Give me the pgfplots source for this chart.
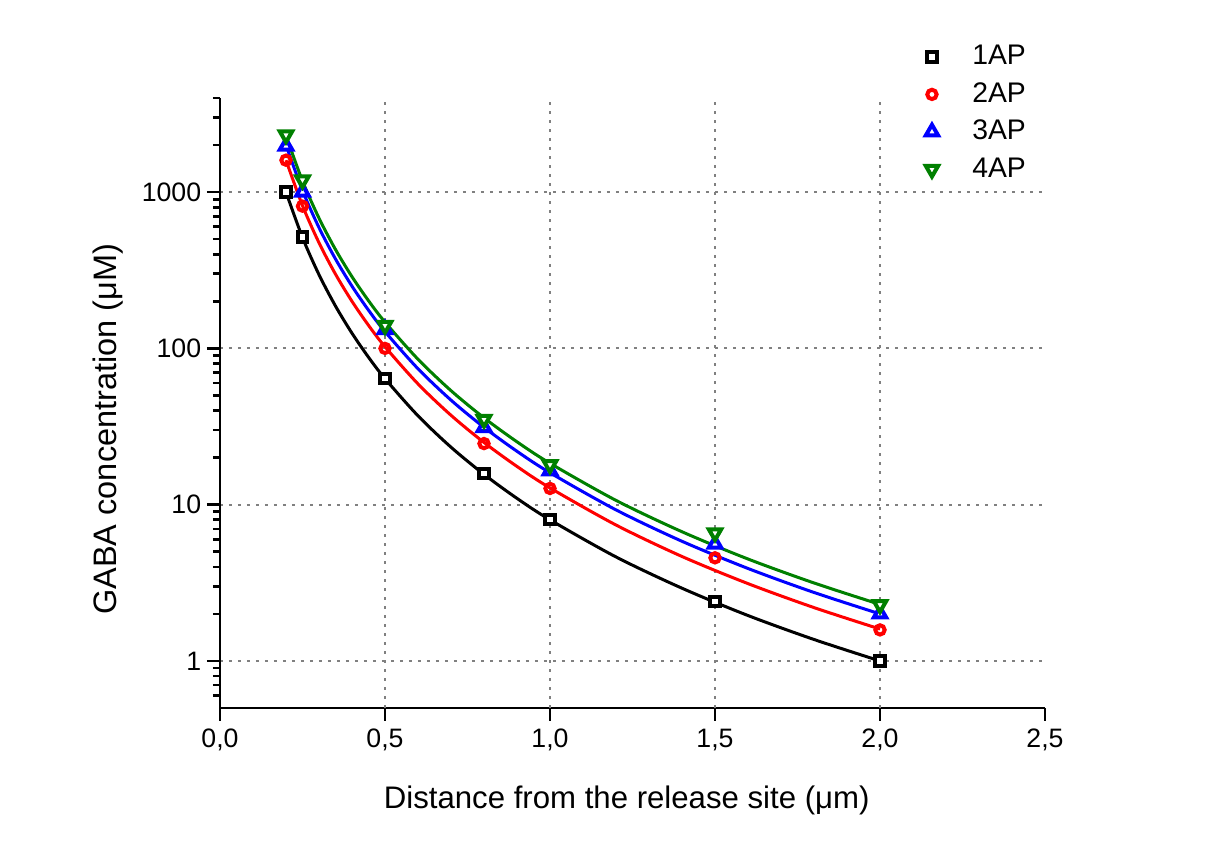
\documentclass[border=0pt]{standalone}
\usepackage{fontspec}
\setmainfont{Liberation Sans}
\usepackage{pgfplots}
\pgfplotsset{compat=1.18}
\definecolor{ogreen}{RGB}{0,128,0}
\definecolor{ored}{RGB}{255,0,0}
\definecolor{oblue}{RGB}{0,0,255}
\definecolor{ogrid}{RGB}{128,128,128}

% fitted curves
\pgfplotstableread{
x c1 c2 c3 c4
0.20 1000 1600 2000 2300
0.25 512 819.2 1024 1177.6
0.30 296.3 474.1 592.6 681.5
0.35 186.6 298.5 373.2 429.2
0.40 125 200 250 287.5
0.45 87.8 140.5 175.6 201.9
0.50 64 102.4 128 147.2
0.60 37.04 59.26 74.07 85.19
0.70 23.32 37.32 46.65 53.64
0.80 15.63 25 31.25 35.94
0.90 10.97 17.56 21.95 25.24
1.00 8 12.8 16 18.4
1.20 4.63 7.41 9.26 10.65
1.40 2.92 4.66 5.83 6.71
1.60 1.953 3.125 3.906 4.49
1.80 1.372 2.195 2.743 3.155
2.00 1.0 1.6 2.0 2.3
}\curves

% measured points
\pgfplotstableread{
x p1 p2 p3 p4
0.20 1000 1600 1970 2320
0.25 515 813 1000 1194
0.50 64 100 132 140
0.80 15.8 24.6 31.2 35.1
1.00 8.0 12.7 16.5 18.0
1.50 2.4 4.57 5.6 6.6
2.00 1.0 1.58 2.0 2.29
}\points

\begin{document}
\begin{tikzpicture}
\begin{axis}[
  scale only axis,
  width=495pt, height=366pt,
  xmin=0, xmax=2.5,
  ymode=log, ymin=0.5, ymax=4000,
  axis x line*=bottom, axis y line*=left,
  axis line style={-, line width=1.6pt},
  tick align=outside,
  major tick length=7.8pt, minor tick length=4.2pt,
  every tick/.style={black, line width=1.6pt},
  xtick={0,0.5,1,1.5,2,2.5},
  xticklabels={{0,0},{0,5},{1,0},{1,5},{2,0},{2,5}},
  ytick={1,10,100,1000},
  yticklabels={1,10,100,1000},
  minor ytick={0.6,0.7,0.8,0.9,2,3,4,5,6,7,8,9,20,30,40,50,60,70,80,90,200,300,400,500,600,700,800,900,2000,3000,4000},
  ymajorgrids=true,
  extra x ticks={0.5,1,1.5,2},
  extra x tick labels={},
  extra x tick style={xmajorgrids=true, major tick length=0pt},
  major grid style={ogrid, line width=1.1pt, dash pattern=on 1.8pt off 3.6pt},
  /pgf/number format/assume math mode=true,
  tick label style={font=\fontsize{16}{19}\selectfont},
  xticklabel style={yshift=-1.5pt},
  xlabel={Distance from the release site (μm)},
  ylabel={GABA concentration (μM)},
  xlabel style={at={(rel axis cs:0.493,-0.164)}, anchor=base, font=\fontsize{18.7}{22}\selectfont},
  ylabel style={at={(rel axis cs:-0.1358,0.457)}, anchor=center, font=\fontsize{19.5}{23}\selectfont},
  legend style={at={(rel axis cs:0.849,1.10)}, anchor=north west, draw=none, fill=none,
    font=\fontsize{17}{20}\selectfont, row sep=3pt,
    nodes={text height=12.5pt, text depth=3pt, inner sep=2pt},
    /tikz/every odd column/.append style={column sep=18.5pt}},
  legend cell align=left,
  clip=false,
]
\addplot[black, line width=1.8pt, smooth, forget plot] table[x=x, y=c1] {\curves};
\addplot[ored, line width=1.8pt, smooth, forget plot] table[x=x, y=c2] {\curves};
\addplot[oblue, line width=1.8pt, smooth, forget plot] table[x=x, y=c3] {\curves};
\addplot[ogreen, line width=1.8pt, smooth, forget plot] table[x=x, y=c4] {\curves};

\addplot[only marks, black, mark=square*, mark size=2.8pt, mark options={fill=white, line width=2.4pt}] table[x=x, y=p1] {\points};
\addplot[only marks, ored, mark=o, mark size=2.8pt, mark options={fill=white, line width=2.4pt}] table[x=x, y=p2] {\points};
\addplot[only marks, oblue, mark=triangle*, mark size=4.3pt, mark options={fill=white, line width=2.4pt}] table[x=x, y=p3] {\points};
\addplot[only marks, ogreen, mark=triangle*, mark size=4.3pt, mark options={fill=white, line width=2.4pt, rotate=180}] table[x=x, y=p4] {\points};
\legend{1AP,2AP,3AP,4AP}

\coordinate (bl) at (rel axis cs:-0.26667,-0.21803);
\coordinate (tr) at (rel axis cs:1.19394,1.16066);
\end{axis}
\path (bl) rectangle (tr);
\end{tikzpicture}
\end{document}
